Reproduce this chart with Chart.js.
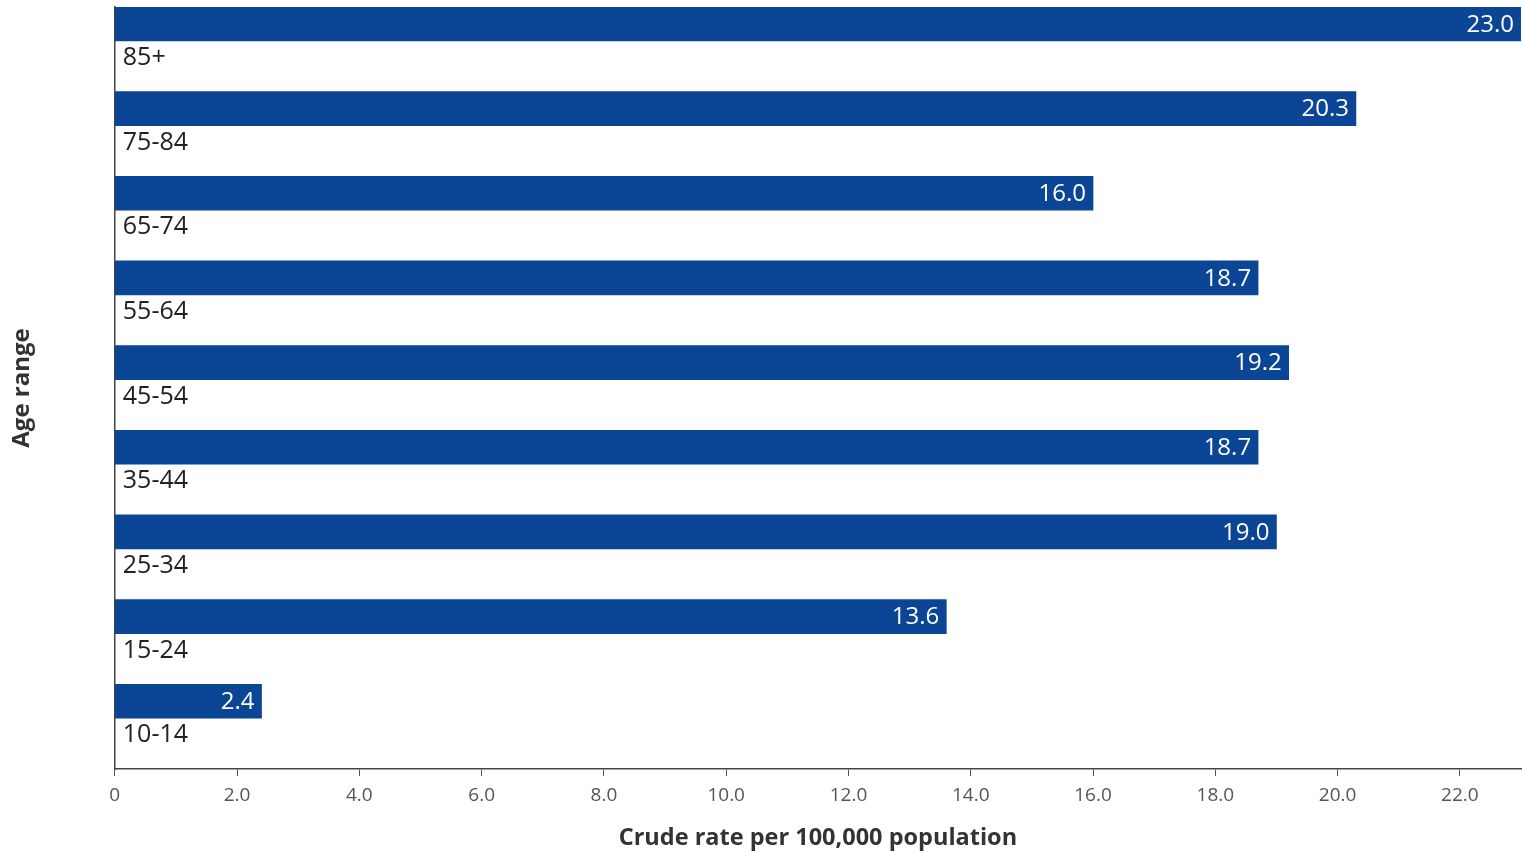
<!DOCTYPE html>
<html>
<head>
<meta charset="utf-8">
<script src="https://cdn.jsdelivr.net/npm/chart.js@4.4.1/dist/chart.umd.min.js"></script>
<style>
    html, body { margin: 0; padding: 0; background: #fff; }
    #wrap { width: 1522px; height: 852px; }
</style>
</head>
<body>
<div id="wrap"><canvas id="chart"></canvas></div>
<script>
document.addEventListener('DOMContentLoaded', () => {
    // chart values
    const ageLabels = ['85+', '75-84', '65-74', '55-64', '45-54', '35-44', '25-34', '15-24', '10-14'];
    const rates = [23.0, 20.3, 16.0, 18.7, 19.2, 18.7, 19.0, 13.6, 2.4];
    const xTicks = [0, 2, 4, 6, 8, 10, 12, 14, 16, 18, 20, 22];

    const barColor = '#0b4595';
    const fontFamily = '"Open Sans", "Noto Sans", sans-serif';
    const labelShift = 0.4; // age label sits below its bar

    // bar value labels, white, at the inner end of each bar
    const valueLabels = {
        id: 'valueLabels',
        afterDatasetsDraw(chart) {
            const ctx = chart.ctx;
            const meta = chart.getDatasetMeta(0);
            ctx.save();
            ctx.font = '24px ' + fontFamily;
            ctx.fillStyle = '#fff';
            ctx.textAlign = 'right';
            ctx.textBaseline = 'middle';
            meta.data.forEach((bar, i) => {
                ctx.fillText(rates[i].toFixed(1), bar.x - 7, bar.y + 1);
            });
            ctx.restore();
        }
    };

    new Chart(document.getElementById('chart'), {
        type: 'bar',
        data: {
            datasets: [{
                data: rates.map((v, i) => ({ x: v, y: i })),
                backgroundColor: barColor,
                barThickness: 34,
            }],
        },
        options: {
            indexAxis: 'y',
            responsive: true,
            maintainAspectRatio: false,
            animation: false,
            layout: { padding: { top: 7, right: 1, left: 0, bottom: 0 } },
            plugins: {
                legend: { display: false },
                tooltip: { enabled: false },
            },
            scales: {
                x: {
                    type: 'linear',
                    min: 0,
                    max: 23,
                    afterBuildTicks: (scale) => {
                        scale.ticks = xTicks.map((v) => ({ value: v }));
                    },
                    grid: {
                        drawOnChartArea: false,
                        drawTicks: true,
                        tickLength: 7,
                        color: '#555',
                    },
                    border: { display: true, color: '#444', width: 1.5 },
                    ticks: {
                        color: '#555',
                        font: { family: fontFamily, size: 19 },
                        padding: 8,
                        callback: (v) => (v === 0 ? '0' : v.toFixed(1)),
                    },
                    title: {
                        display: true,
                        text: 'Crude rate per 100,000 population',
                        color: '#333',
                        font: { family: fontFamily, size: 23.5, weight: 'bold' },
                        padding: { top: 9, bottom: 0 },
                    },
                },
                y: {
                    type: 'linear',
                    reverse: true,
                    offset: false,
                    min: -0.2,
                    max: ageLabels.length - 0.2,
                    afterBuildTicks: (scale) => {
                        scale.ticks = ageLabels.map((l, i) => ({ value: i + labelShift }));
                    },
                    afterFit: (scale) => {
                        scale.paddingTop = 0;
                        scale.paddingBottom = 0;
                    },
                    grid: { display: false, drawTicks: false },
                    border: { display: true, color: '#444', width: 1.5 },
                    ticks: {
                        mirror: true,
                        padding: 8,
                        autoSkip: false,
                        color: '#222',
                        font: { family: fontFamily, size: 25 },
                        callback: (v) => ageLabels[Math.round(v - labelShift)],
                    },
                    title: {
                        display: true,
                        text: 'Age range',
                        color: '#333',
                        font: { family: fontFamily, size: 24, weight: 'bold' },
                        padding: { top: 8, bottom: 62 },
                    },
                },
            },
        },
        plugins: [valueLabels],
    });
});
</script>
</body>
</html>
